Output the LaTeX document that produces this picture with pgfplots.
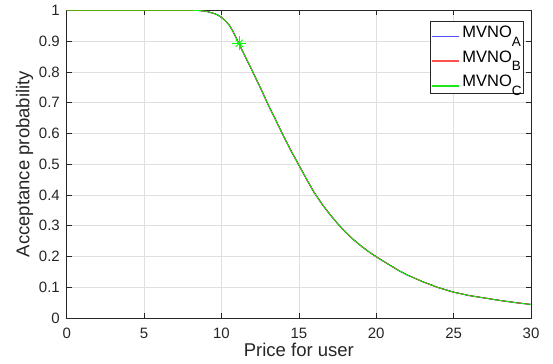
\documentclass[border=0pt]{standalone}
\usepackage{pgfplots}
\pgfplotsset{compat=1.18}
\usepackage{pgfplotstable}
\usepackage{fontspec}
\setmainfont{Liberation Sans}

\definecolor{axgray}{RGB}{38,38,38}
\definecolor{gridgray}{RGB}{223,223,223}
\definecolor{lgblue}{RGB}{80,80,255}
\definecolor{lgred}{RGB}{255,80,80}
\definecolor{lggreen}{RGB}{30,230,30}
\newcommand{\sub}[1]{\lower8.5bp\hbox{\fontsize{13.5bp}{13.5bp}\selectfont #1}}
\newcommand{\lgline}[1]{\textcolor{#1}{\rule[0.4bp]{27bp}{1.5bp}}\hspace{3bp}}

\pgfplotstableread{
x y
0 1
2 1
4 1
6 1
8 1
8.5 0.9995
9 0.997
9.5 0.990
9.75 0.985
10 0.977
10.25 0.966
10.5 0.952
10.75 0.931
11 0.905
11.25 0.879
11.5 0.853
12 0.802
12.5 0.750
13 0.695
13.5 0.644
14 0.592
14.5 0.543
15 0.497
15.5 0.451
16 0.407
16.5 0.370
17 0.337
17.5 0.307
18 0.280
18.5 0.256
19 0.235
19.5 0.216
20 0.199
21 0.168
21.5 0.153
22 0.140
23 0.118
24 0.099
25 0.084
26 0.073
27 0.065
28 0.057
29 0.050
30 0.044
}\curve

\begin{document}
\begin{tikzpicture}
\useasboundingbox (-66.7bp,-46bp) rectangle (486.3bp,318bp);
\begin{axis}[
  scale only axis, width=464.3bp, height=307.7bp,
  xmin=0, xmax=30, ymin=0, ymax=1,
  xtick={0,5,10,15,20,25,30},
  ytick={0,0.1,0.2,0.3,0.4,0.5,0.6,0.7,0.8,0.9,1},
  /pgf/number format/assume math mode=true,
  tick pos=both, tick align=inside, major tick length=5bp,
  tick style={axgray, line width=0.6bp},
  axis line style={axgray, line width=0.7bp},
  grid=major, major grid style={gridgray, line width=0.6bp},
  ticklabel style={font=\fontsize{15bp}{17bp}\selectfont, text=axgray},
  xticklabel style={anchor=base, yshift=-20bp, inner sep=0pt},
  yticklabel style={anchor=east, inner sep=0pt, xshift=-6.7bp},
  xlabel={Price for user},
  ylabel={Acceptance probability},
  xlabel style={at={(axis description cs:0.5,0)}, anchor=base, yshift=-38.3bp, inner sep=0pt, font=\fontsize{18.5bp}{21bp}\selectfont, text=axgray},
  ylabel style={at={(axis description cs:0,0.5)}, anchor=south, yshift=33.4bp, inner sep=0pt, font=\fontsize{18.5bp}{21bp}\selectfont, text=axgray},
  legend style={at={(rel axis cs:0.985,0.966)}, anchor=north east, draw=axgray, line width=0.6bp,
    font=\fontsize{16.5bp}{18bp}\selectfont, inner xsep=0bp, inner ysep=3bp, row sep=7.7bp,
    column sep=0pt, cells={anchor=west}},
]
\addlegendimage{empty legend}
\addlegendentry{\lgline{lgblue}MVNO\sub{A}}
\addlegendimage{empty legend}
\addlegendentry{\lgline{lgred}MVNO\sub{B}}
\addlegendimage{empty legend}
\addlegendentry{\lgline{lggreen}MVNO\sub{C}}
\addplot[draw=blue, line width=1bp, forget plot] table {\curve};
\addplot[draw=red, line width=1bp, forget plot] table {\curve};
\addplot[draw=green, line width=0.8bp, forget plot] table {\curve};
\addplot[green, only marks, mark=+, mark size=7bp, line width=0.8bp, forget plot] coordinates {(11.15,0.893)};
\addplot[green, only marks, mark=x, mark size=5bp, line width=0.8bp, forget plot] coordinates {(11.15,0.893)};
\end{axis}
\end{tikzpicture}
\end{document}
